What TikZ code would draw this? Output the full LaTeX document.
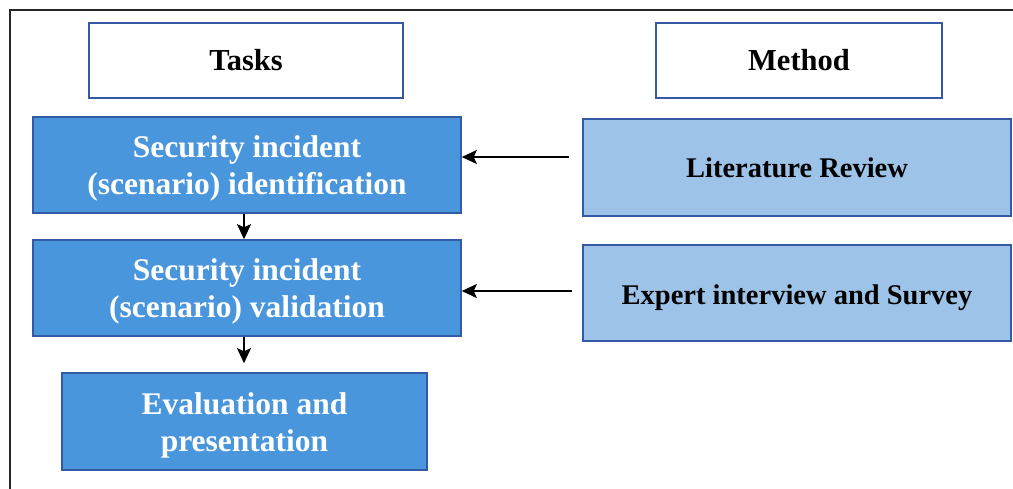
\documentclass[tikz,border=0pt]{standalone}
\usepackage{fontspec}
\setmainfont{Liberation Serif}
\usetikzlibrary{arrows.meta,calc}
\definecolor{taskfill}{RGB}{74,150,220}
\definecolor{methfill}{RGB}{157,196,232}
\definecolor{edgeblue}{RGB}{52,90,165}
% centred text block, pushed down by twice its first argument
\newcommand{\lowered}[3]{\parbox{#2}{\centering\vspace*{#1}#3}}
\tikzset{
  base/.style={draw=edgeblue, line width=1.6pt, align=center, inner sep=0pt, font=\bfseries},
  header/.style={base, fill=white, text=black, minimum width=#1, minimum height=75pt, font=\fontsize{30.5}{36}\selectfont\bfseries},
  taskbox/.style={base, fill=taskfill, text=white, minimum width=#1, minimum height=96pt, font=\fontsize{31.5}{37}\selectfont\bfseries},
  methbox/.style={base, fill=methfill, text=black, minimum width=428pt, minimum height=97pt, font=\fontsize{28.5}{34}\selectfont\bfseries},
  arr/.style={-{Stealth[length=15pt,width=14pt,inset=3pt]}, line width=1.8pt, black}
}
\begin{document}
\begin{tikzpicture}[x=1pt,y=-1pt]
  \useasboundingbox (0,0) rectangle (1013,488);
  \begin{scope}
    \clip (0,0) rectangle (1013,488);
    % outer frame, running off the right and bottom edges
    \draw[line width=2pt, black!85] (10,10) rectangle (1040,520);
  \end{scope}

  % column headers
  \node[header=314pt] (tasks) at (246,60.5) {Tasks};
  \node[header=286pt] (method) at (799,60.5) {Method};

  % task column
  \node[taskbox=428pt] (ident) at (247,165) {\lowered{6pt}{400pt}{Security incident\\(scenario) identification}};
  \node[taskbox=428pt] (valid) at (247,288) {\lowered{6pt}{400pt}{Security incident\\(scenario) validation}};
  \node[taskbox=365pt, minimum height=97pt] (evalp) at (244.5,421.5) {\lowered{8pt}{340pt}{Evaluation and\\presentation}};

  % method column
  \node[methbox] (litrev) at (797,167.5) {Literature Review};
  \node[methbox, minimum height=96pt] (expert) at (797,293) {\lowered{9pt}{400pt}{Expert interview and Survey}};

  % connectors
  \coordinate (litout) at ($(litrev.west)+(-13,-10.5)$);
  \coordinate (expout) at ($(expert.west)+(-10,-2)$);
  \draw[arr] (litout) -- (ident.east |- litout);
  \draw[arr] (expout) -- (valid.east |- expout);
  \draw[arr] ([xshift=-3pt]ident.south) -- ([xshift=-3pt]valid.north);
  \draw[arr, shorten >=9pt] ([xshift=-3pt]valid.south) -- ([xshift=-3pt]valid.south |- evalp.north);
\end{tikzpicture}
\end{document}
